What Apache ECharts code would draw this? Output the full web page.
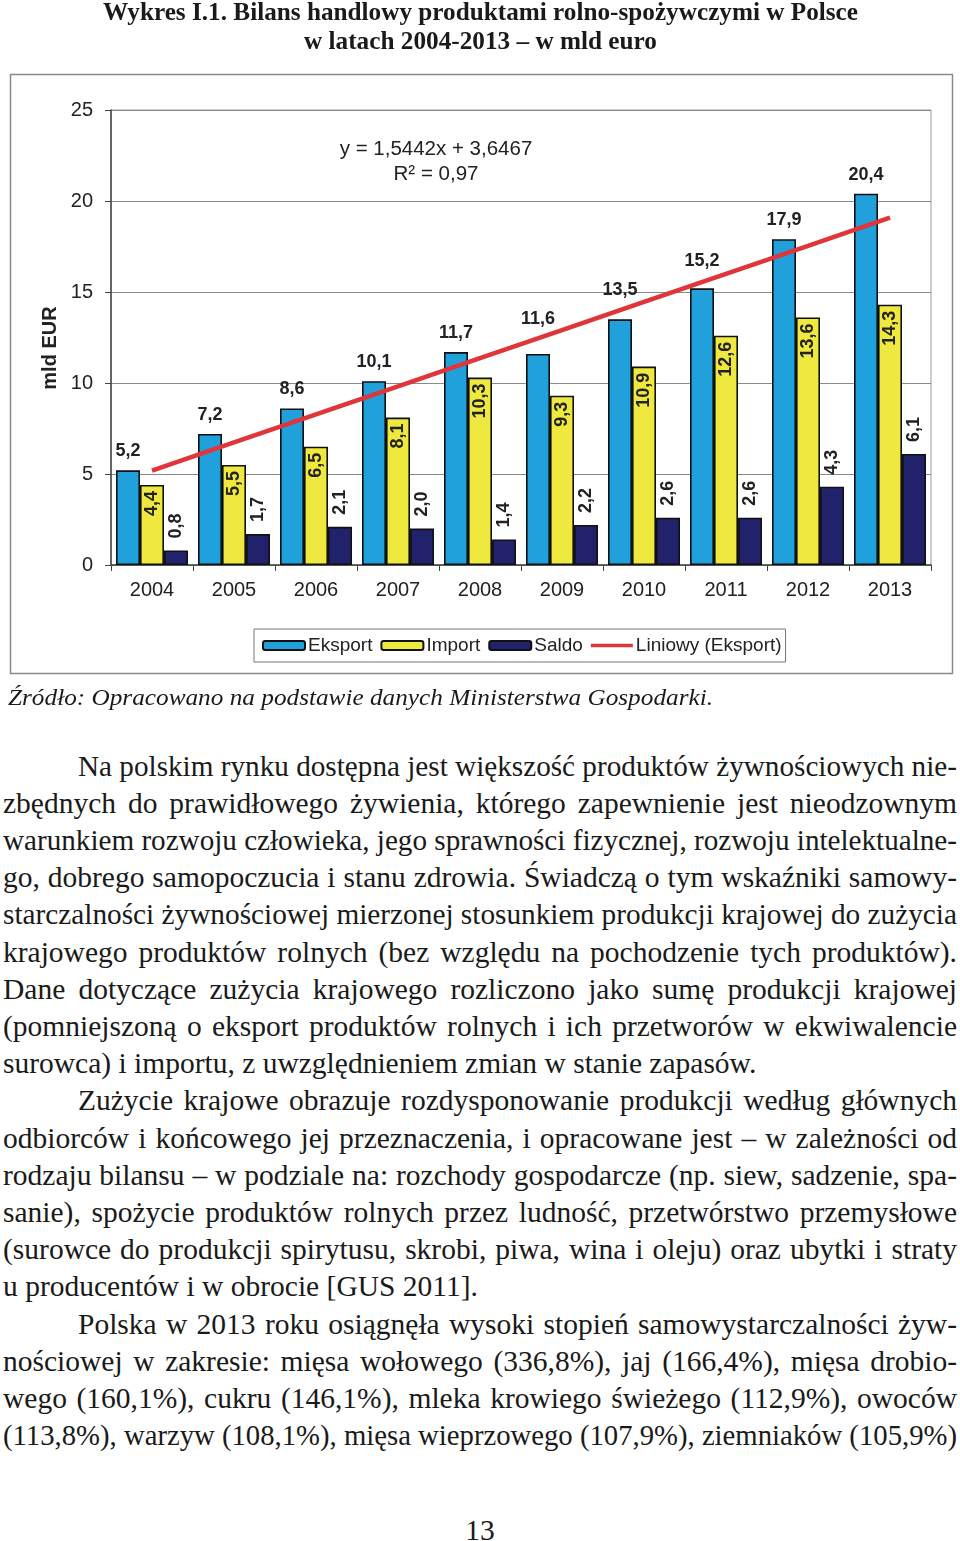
<!DOCTYPE html>
<html>
<head>
<meta charset="utf-8">
<script src="https://cdn.jsdelivr.net/npm/echarts@6/dist/echarts.min.js"></script>
<style>
  html, body { margin: 0; padding: 0; background: #fff; }
  body { width: 960px; height: 1541px; position: relative; overflow: hidden; }
  #chart { position: absolute; left: 0; top: 0; width: 960px; height: 700px; }
  .ln { position: absolute; white-space: nowrap; font-family: "Liberation Serif", "Times New Roman", serif; color: #1a1a1a; }
  .ln span { display: inline-block; transform-origin: 0 50%; }
  .title { font-weight: bold; font-size: 26px; line-height: 30px; }
  .body { font-size: 29.5px; line-height: 37px; }
  .src { font-style: italic; font-size: 24px; line-height: 30px; }
</style>
</head>
<body>
<div id="chart"></div>
<div id="text"></div>
<script>
// ---- data ----
const years = ['2004','2005','2006','2007','2008','2009','2010','2011','2012','2013'];
const eksport = [5.2, 7.2, 8.6, 10.1, 11.7, 11.6, 13.5, 15.2, 17.9, 20.4];
const importV = [4.4, 5.5, 6.5, 8.1, 10.3, 9.3, 10.9, 12.6, 13.6, 14.3];
const saldo = [0.8, 1.7, 2.1, 2.0, 1.4, 2.2, 2.6, 2.6, 4.3, 6.1];
const trend = [5.19, 6.74, 8.28, 9.82, 11.37, 12.91, 14.46, 16.00, 17.54, 19.09];
const yTicks = [0, 5, 10, 15, 20, 25];
const seriesNames = ['Eksport', 'Import', 'Saldo', 'Liniowy (Eksport)'];
const equation = ['y = 1,5442x + 3,6467', 'R² = 0,97'];
const titleLines = ['Wykres I.1. Bilans handlowy produktami rolno-spożywczymi w Polsce', 'w latach 2004-2013 – w mld euro'];
const sourceText = 'Źródło: Opracowano na podstawie danych Ministerstwa Gospodarki.';
const bodyLines = [
  ['Na polskim rynku dostępna jest większość produktów żywnościowych nie-', 'first'],
  ['zbędnych do prawidłowego żywienia, którego zapewnienie jest nieodzownym', 'j'],
  ['warunkiem rozwoju człowieka, jego sprawności fizycznej, rozwoju intelektualne-', 'j'],
  ['go, dobrego samopoczucia i stanu zdrowia. Świadczą o tym wskaźniki samowy-', 'j'],
  ['starczalności żywnościowej mierzonej stosunkiem produkcji krajowej do zużycia', 'j'],
  ['krajowego produktów rolnych (bez względu na pochodzenie tych produktów).', 'j'],
  ['Dane dotyczące zużycia krajowego rozliczono jako sumę produkcji krajowej', 'j'],
  ['(pomniejszoną o eksport produktów rolnych i ich przetworów w ekwiwalencie', 'j'],
  ['surowca) i importu, z uwzględnieniem zmian w stanie zapasów.', 'last'],
  ['Zużycie krajowe obrazuje rozdysponowanie produkcji według głównych', 'first'],
  ['odbiorców i końcowego jej przeznaczenia, i opracowane jest – w zależności od', 'j'],
  ['rodzaju bilansu – w podziale na: rozchody gospodarcze (np. siew, sadzenie, spa-', 'j'],
  ['sanie), spożycie produktów rolnych przez ludność, przetwórstwo przemysłowe', 'j'],
  ['(surowce do produkcji spirytusu, skrobi, piwa, wina i oleju) oraz ubytki i straty', 'j'],
  ['u producentów i w obrocie [GUS 2011].', 'last'],
  ['Polska w 2013 roku osiągnęła wysoki stopień samowystarczalności żyw-', 'first'],
  ['nościowej w zakresie: mięsa wołowego (336,8%), jaj (166,4%), mięsa drobio-', 'j'],
  ['wego (160,1%), cukru (146,1%), mleka krowiego świeżego (112,9%), owoców', 'j'],
  ['(113,8%), warzyw (108,1%), mięsa wieprzowego (107,9%), ziemniaków (105,9%)', 'j']
];
const pageNumber = '13';

// ---- page text ----
const host = document.getElementById('text');
function addLine(txt, cls, left, centerY, width, mode, lh) {
  const d = document.createElement('div');
  d.className = 'ln ' + cls;
  d.style.left = left + 'px';
  d.style.top = (centerY - lh / 2) + 'px';
  d.style.height = lh + 'px';
  const s = document.createElement('span');
  s.textContent = txt;
  d.appendChild(s);
  host.appendChild(d);
  const w = s.getBoundingClientRect().width;
  if (mode === 'fit') {
    s.style.transform = 'scaleX(' + (width / w) + ')';
  } else if (mode === 'justify') {
    const n = (txt.match(/ /g) || []).length;
    if (w <= width && n > 0) {
      s.style.wordSpacing = ((width - w) / n) + 'px';
    } else {
      s.style.transform = 'scaleX(' + (width / w) + ')';
    }
  } else if (mode === 'natural') {
    if (w > width) s.style.transform = 'scaleX(' + (width / w) + ')';
  } else if (mode === 'center') {
    d.style.left = (left - w / 2) + 'px';
  }
  return d;
}
addLine(titleLines[0], 'title', 103, 12, 755, 'fit', 30);
addLine(titleLines[1], 'title', 304, 41, 353, 'fit', 30);
addLine(sourceText, 'src', 8, 697, 705, 'fit', 30);
const lineStep = 37.2;
bodyLines.forEach(function (b, i) {
  const cy = 766 + i * lineStep;
  const left = b[1] === 'first' ? 78 : 3;
  const width = 957 - left;
  addLine(b[0], 'body', left, cy, width, b[1] === 'last' ? 'natural' : 'justify', 37);
});
addLine(pageNumber, 'body', 480, 1530, 0, 'center', 37);

// ---- chart ----
const fmt = function (p) { return p.value.toFixed(1).replace('.', ','); };
const font = '"Liberation Sans", Arial, sans-serif';
// extra lift (px) for a few export labels that were moved off the trend line in the original
const exportLabelLift = { 5: 16, 6: 10, 7: 8 };
const eksportData = eksport.map(function (v, i) {
  return exportLabelLift[i] ? { value: v, label: { distance: 10 + exportLabelLift[i] } } : v;
});
const chart = echarts.init(document.getElementById('chart'), null, { renderer: 'canvas' });
chart.setOption({
  animation: false,
  textStyle: { fontFamily: font, color: '#222' },
  grid: { left: 111, right: 29, top: 110, bottom: 135, show: true, borderColor: '#999', borderWidth: 1 },
  xAxis: {
    type: 'category', data: years,
    axisLine: { lineStyle: { color: '#444', width: 1.5 } },
    axisTick: { show: true, length: 6, lineStyle: { color: '#444' } },
    axisLabel: { fontSize: 20, color: '#222', margin: 15, fontFamily: font }
  },
  yAxis: {
    type: 'value', min: yTicks[0], max: yTicks[yTicks.length - 1], interval: 5,
    axisLine: { show: true, lineStyle: { color: '#444', width: 1.5 } },
    axisTick: { show: true, length: 6, lineStyle: { color: '#444' } },
    axisLabel: { fontSize: 20, color: '#222', margin: 18, fontFamily: font },
    splitLine: { lineStyle: { color: '#8a8a8a', width: 1 } }
  },
  legend: {
    left: 254, top: 629,
    data: [
      { name: seriesNames[0] },
      { name: seriesNames[1] },
      { name: seriesNames[2] },
      { name: seriesNames[3], icon: 'path://M0,0 L42,0 L42,3.5 L0,3.5 Z' }
    ],
    itemWidth: 42, itemHeight: 9, itemGap: 8,
    padding: [7, 4, 7, 8],
    borderColor: '#777', borderWidth: 1,
    textStyle: { fontSize: 19, color: '#222', fontFamily: font, padding: [0, 0, 0, -2] }
  },
  graphic: [
    { type: 'rect', shape: { x: 10.5, y: 74.5, width: 942, height: 599 }, style: { fill: 'none', stroke: '#8a8a8a', lineWidth: 1.5 }, silent: true },
    { type: 'text', x: 50, y: 348, rotation: Math.PI / 2, style: { text: 'mld EUR', font: 'bold 20px ' + font, fill: '#222', textAlign: 'center', textVerticalAlign: 'middle' } },
    { type: 'text', x: 436, y: 149, style: { text: equation[0], font: '20.5px ' + font, fill: '#222', textAlign: 'center', textVerticalAlign: 'middle' } },
    { type: 'text', x: 436, y: 174, style: { text: equation[1], font: '20.5px ' + font, fill: '#222', textAlign: 'center', textVerticalAlign: 'middle' } }
  ],
  series: [
    {
      name: seriesNames[0], type: 'bar', data: eksportData, barWidth: 24, barGap: '0%',
      itemStyle: { color: '#21a1dc', borderColor: '#111', borderWidth: 1.6 },
      label: { show: true, position: 'top', distance: 10, formatter: fmt, fontSize: 18, fontWeight: 'bold', color: '#222', fontFamily: font }
    },
    {
      name: seriesNames[1], type: 'bar', data: importV, barWidth: 24, barGap: '0%',
      itemStyle: { color: '#eee83f', borderColor: '#111', borderWidth: 1.6 },
      label: { show: true, position: 'insideTop', distance: 6, rotate: 90, align: 'right', verticalAlign: 'middle', formatter: fmt, fontSize: 18, fontWeight: 'bold', color: '#222', fontFamily: font }
    },
    {
      name: seriesNames[2], type: 'bar', data: saldo, barWidth: 24, barGap: '0%',
      itemStyle: { color: '#22226c', borderColor: '#111', borderWidth: 1.6 },
      label: { show: true, position: 'top', distance: 12, rotate: 90, align: 'left', verticalAlign: 'middle', formatter: fmt, fontSize: 18, fontWeight: 'bold', color: '#222', fontFamily: font }
    },
    {
      name: seriesNames[3], type: 'line', data: trend, symbol: 'none', showSymbol: false,
      lineStyle: { color: '#e0353a', width: 4.5 }, itemStyle: { color: '#e0353a' }, z: 5
    }
  ]
});
</script>
</body>
</html>
